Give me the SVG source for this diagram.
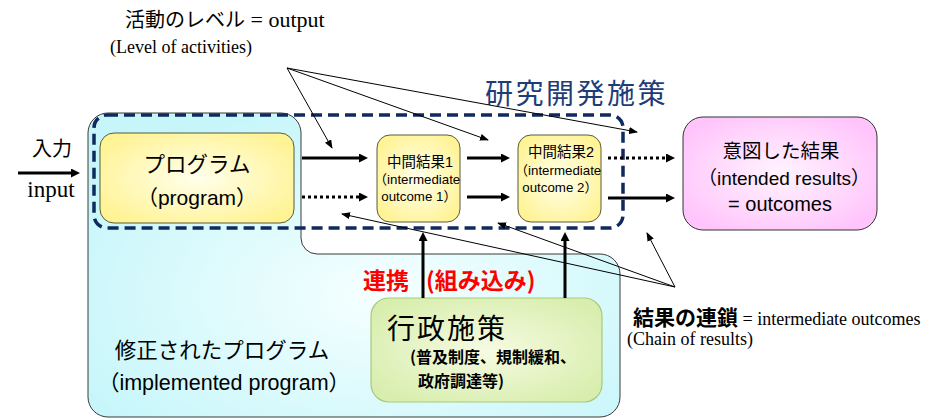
<svg xmlns="http://www.w3.org/2000/svg" width="946" height="419" viewBox="0 0 946 419">
<defs>
<style>
.s{font-family:"Liberation Sans","Noto Sans CJK JP",sans-serif;fill:#000}
.j{font-family:"Noto Sans CJK JP","Liberation Sans",sans-serif;fill:#000}
.r{font-family:"Liberation Serif","Noto Sans CJK JP",serif;fill:#000}
.m{text-anchor:middle}
.box{stroke:#5a5a3a;stroke-width:1}
.thick{stroke:#000;stroke-width:3;fill:none;marker-end:url(#ah)}
.dot{stroke-dasharray:3 3}
.thin{stroke:#000;stroke-width:1;fill:none;marker-end:url(#ahs)}
</style>
<radialGradient id="gy" cx="50%" cy="50%" r="60%">
<stop offset="0" stop-color="#ffffec"/><stop offset="1" stop-color="#fff394"/>
</radialGradient>
<radialGradient id="gp" cx="50%" cy="50%" r="60%">
<stop offset="0" stop-color="#fff4ff"/><stop offset="1" stop-color="#ffc4fb"/>
</radialGradient>
<radialGradient id="gg" cx="50%" cy="50%" r="60%">
<stop offset="0" stop-color="#f6fbe2"/><stop offset="1" stop-color="#d8eeae"/>
</radialGradient>
<radialGradient id="gc" cx="55%" cy="60%" r="65%">
<stop offset="0" stop-color="#f6ffff"/><stop offset="1" stop-color="#c6f6fa"/>
</radialGradient>
<marker id="ah" markerUnits="userSpaceOnUse" markerWidth="10" markerHeight="9" refX="2" refY="4.5" orient="auto">
<path d="M0,0 L9,4.5 L0,9 z" fill="#000"/>
</marker>
<marker id="ahs" markerUnits="userSpaceOnUse" markerWidth="9" markerHeight="7" refX="8" refY="3.5" orient="auto">
<path d="M0,0 L9,3.5 L0,7 z" fill="#000"/>
</marker>
</defs>
<rect width="946" height="419" fill="#fff"/>

<g id="implemented-program">
<path d="M108 113 H281 A20 20 0 0 1 301 133 V238 A16 16 0 0 0 317 254 H600 A20 20 0 0 1 620 274 V397 A20 20 0 0 1 600 417 H108 A20 20 0 0 1 88 397 V133 A20 20 0 0 1 108 113 Z" fill="url(#gc)" stroke="#3a3a3a" stroke-width="1"/>
<text class="j m" x="222" y="358" font-size="21.5">修正されたプログラム</text>
<text class="s m" x="224" y="390" font-size="21.5">（implemented program）</text>
</g>

<g id="rd-policy">
<rect x="94" y="115" width="529" height="113" rx="13" fill="none" stroke="#0f2a5e" stroke-width="3.5" stroke-dasharray="11 6"/>
<text class="j" x="485" y="104" font-size="28" letter-spacing="2.5" style="fill:#1d3d78">研究開発施策</text>
</g>

<g id="program">
<rect class="box" x="100" y="133" width="194" height="90" rx="14" fill="url(#gy)"/>
<text class="j m" x="197" y="172" font-size="21.5">プログラム</text>
<text class="s m" x="197" y="205" font-size="21">（program）</text>
</g>

<g id="intermediate1">
<rect class="box" x="377" y="135" width="83" height="87" rx="13" fill="url(#gy)"/>
<text class="s m" x="420" y="167" font-size="14.5">中間結果1</text>
<text class="s m" x="417" y="184" font-size="13.3">（intermediate</text>
<text class="s m" x="419" y="201" font-size="13.3">outcome 1）</text>
</g>

<g id="intermediate2">
<rect class="box" x="518" y="135" width="83" height="87" rx="13" fill="url(#gy)"/>
<text class="s m" x="561" y="157" font-size="14.5">中間結果2</text>
<text class="s m" x="558" y="175" font-size="13.3">（intermediate</text>
<text class="s m" x="560" y="192" font-size="13.3">outcome 2）</text>
</g>

<g id="outcomes">
<rect x="683" y="117" width="194" height="113" rx="20" fill="url(#gp)" stroke="#333" stroke-width="1"/>
<text class="j m" x="781" y="158" font-size="19.5">意図した結果</text>
<text class="s m" x="784" y="185" font-size="19">（intended results）</text>
<text class="s m" x="780" y="211" font-size="20">= outcomes</text>
</g>

<g id="admin-policy">
<rect x="371" y="298" width="231" height="104" rx="18" fill="url(#gg)" stroke="#a9c97c" stroke-width="1.2"/>
<text class="j" x="387" y="339" font-size="28" letter-spacing="2">行政施策</text>
<text class="j" x="410" y="363" font-size="16" font-weight="bold">(普及制度、規制緩和、</text>
<text class="j" x="418" y="386.5" font-size="16" font-weight="bold">政府調達等)</text>
</g>

<g id="connectors">
<line class="thick" x1="18" y1="173" x2="73" y2="173"/>
<line class="thick" x1="302" y1="158" x2="361" y2="158"/>
<line class="thick dot" x1="302" y1="197" x2="361" y2="197"/>
<line class="thick" x1="467" y1="158" x2="503" y2="158"/>
<line class="thick" x1="467" y1="197" x2="503" y2="197"/>
<line class="thick dot" x1="608" y1="158" x2="668" y2="158"/>
<line class="thick" x1="608" y1="198" x2="668" y2="198"/>
<line class="thick" x1="423" y1="298" x2="423" y2="239"/>
<line class="thick" x1="565" y1="298" x2="565" y2="239"/>
<line class="thin" x1="287" y1="68" x2="332" y2="148"/>
<line class="thin" x1="287" y1="68" x2="488" y2="140"/>
<line class="thin" x1="287" y1="68" x2="637" y2="132"/>
<line class="thin" x1="675" y1="287" x2="647" y2="233"/>
<line class="thin" x1="675" y1="287" x2="342" y2="214"/>
<line class="thin" x1="675" y1="287" x2="498" y2="223"/>
</g>

<g id="labels">
<text x="125" y="27"><tspan class="j" font-size="20">活動のレベル</tspan><tspan class="r" font-size="22"> = output</tspan></text>
<text class="r" x="110" y="53" font-size="18">(Level of activities)</text>
<text class="j m" x="52" y="156" font-size="20">入力</text>
<text class="r m" x="51" y="197" font-size="23">input</text>
<text class="j" x="363" y="289" font-size="23" font-weight="bold" style="fill:#ff0000">連携</text>
<text class="j" x="426" y="289" font-size="23" font-weight="bold" style="fill:#ff0000">(組み込み)</text>
<text x="633" y="325"><tspan class="j" font-size="21" font-weight="bold">結果の連鎖</tspan><tspan class="r" font-size="18"> = intermediate outcomes</tspan></text>
<text class="r" x="627" y="345" font-size="18">(Chain of results)</text>
</g>
</svg>
